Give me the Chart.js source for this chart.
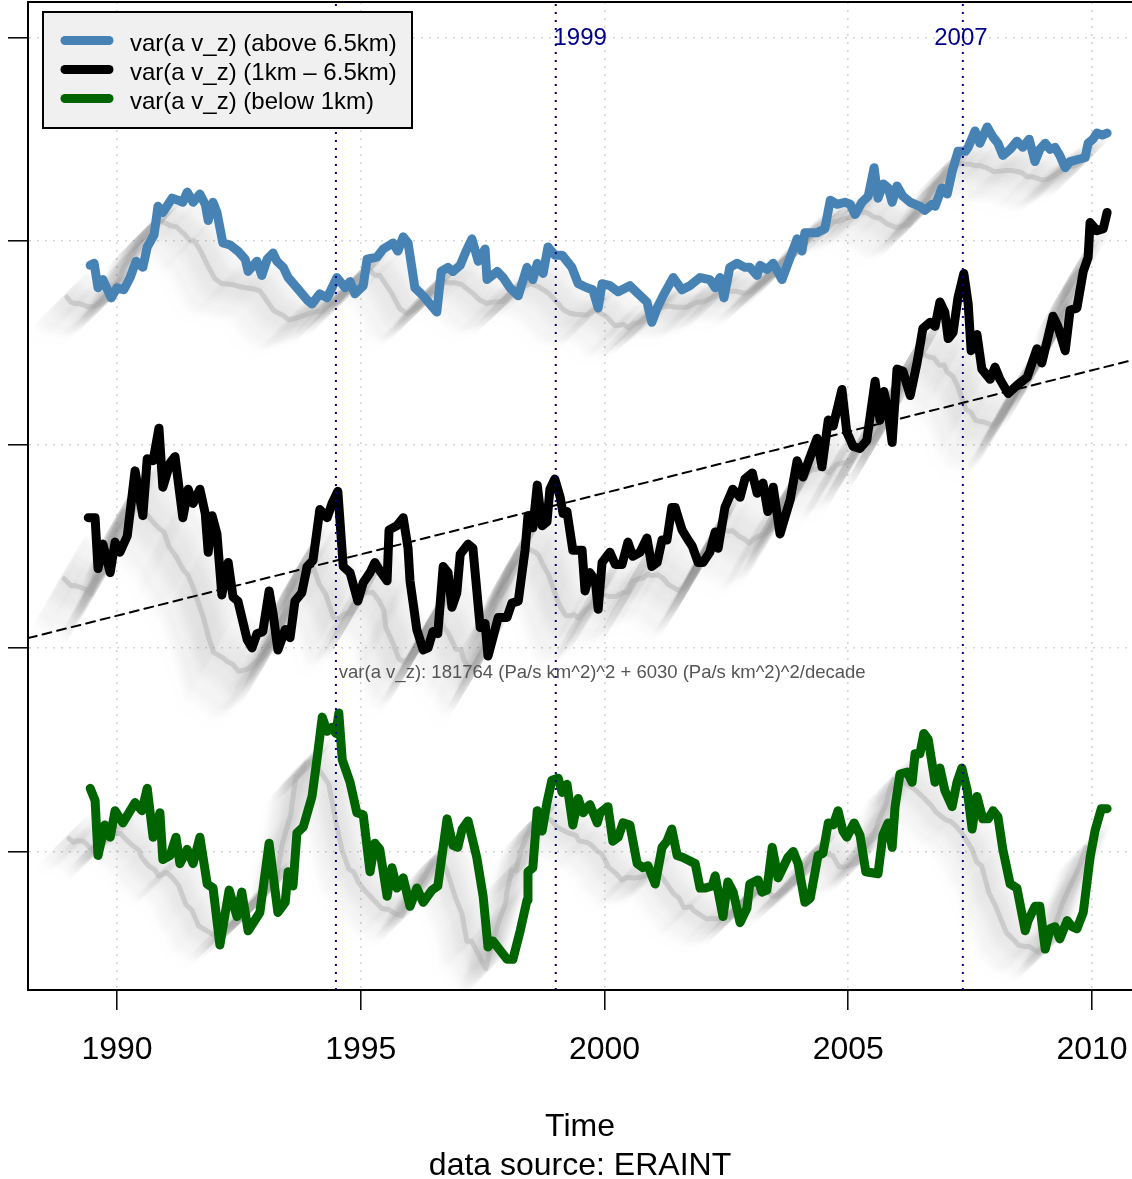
<!DOCTYPE html>
<html>
<head>
<meta charset="utf-8">
<script src="https://cdn.jsdelivr.net/npm/chart.js@4.4.1/dist/chart.umd.min.js"></script>
<style>
  html, body { margin: 0; padding: 0; background: #ffffff; }
  canvas { display: block; }
</style>
</head>
<body>
<canvas id="chart" width="1132" height="1179"></canvas>
<script>
// Variance of a*v_z by height band, in 1000 (Pa/s km^2)^2, against decimal year.
const yearsAbove = [
  1989.45,1989.53,1989.61,1989.71,1989.88,1990.00,1990.14,1990.27,1990.39,1990.53,
  1990.62,1990.76,1990.84,1990.94,1991.13,1991.25,1991.35,1991.44,1991.56,1991.70,
  1991.81,1991.87,1991.97,1992.05,1992.17,1992.32,1992.48,1992.63,1992.69,1992.87,
  1992.97,1993.08,1993.20,1993.28,1993.41,1993.51,1993.69,1993.90,1994.00,1994.16,
  1994.31,1994.51,1994.68,1994.78,1994.88,1995.05,1995.13,1995.33,1995.46,1995.66,
  1995.76,1995.87,1995.97,1996.11,1996.28,1996.42,1996.56,1996.65,1996.79,1996.89,
  1997.04,1997.16,1997.28,1997.41,1997.55,1997.59,1997.80,1997.92,1998.06,1998.23,
  1998.41,1998.53,1998.62,1998.74,1998.84,1998.98,1999.13,1999.33,1999.46,1999.64,
  1999.76,1999.87,1999.95,2000.11,2000.28,2000.52,2000.69,2000.87,2000.97,2001.08,
  2001.20,2001.41,2001.59,2001.75,2001.96,2002.16,2002.27,2002.37,2002.45,2002.57,
  2002.72,2002.88,2002.98,2003.13,2003.19,2003.33,2003.46,2003.64,2003.81,2003.95,
  2004.05,2004.11,2004.36,2004.52,2004.63,2004.77,2004.93,2005.04,2005.14,2005.28,
  2005.41,2005.53,2005.61,2005.72,2005.82,2005.90,2006.00,2006.12,2006.27,2006.47,
  2006.57,2006.72,2006.78,2006.92,2007.03,2007.13,2007.25,2007.40,2007.46,2007.60,
  2007.70,2007.85,2007.97,2008.07,2008.17,2008.32,2008.46,2008.58,2008.71,2008.83,
  2008.93,2009.04,2009.14,2009.24,2009.34,2009.45,2009.55,2009.71,2009.86,2009.92,
  2010.02,2010.10,2010.21,2010.31
];
const varAbove = [
  198.8,198.9,197.7,198.1,197.2,197.7,197.6,198.2,199.0,198.7,
  199.7,200.3,201.7,201.4,202.1,202.0,201.9,202.4,201.9,202.3,
  201.8,201.0,201.9,201.4,199.9,199.8,199.5,199.1,198.5,199.0,
  198.3,199.1,199.4,199.0,198.7,198.2,197.7,197.1,196.9,197.4,
  197.2,198.2,197.7,198.0,197.4,197.8,199.1,199.2,199.6,199.9,
  199.5,200.2,199.9,197.7,197.3,196.9,196.5,198.5,198.7,198.5,
  198.8,199.5,200.1,199.0,199.6,198.1,198.5,198.2,197.7,197.3,
  198.7,198.1,198.9,198.4,199.7,199.3,199.3,198.7,197.9,197.7,
  197.6,196.7,197.9,197.8,197.5,197.8,197.4,197.0,196.0,196.7,
  197.3,198.2,197.6,197.8,198.2,198.1,197.7,198.2,197.2,198.7,
  198.9,198.7,198.7,198.3,198.8,198.6,198.9,198.1,199.2,200.1,
  199.5,200.4,200.4,200.6,202.0,201.8,201.9,201.8,201.3,201.9,
  202.2,203.6,202.1,202.8,202.6,201.9,202.7,202.2,201.9,201.7,
  201.5,201.8,201.7,202.6,202.3,203.4,204.4,204.4,204.6,205.4,
  204.8,205.6,205.1,204.8,204.2,204.5,204.9,204.6,205.0,203.9,
  204.5,204.8,204.5,204.6,204.2,203.6,203.9,204.0,204.1,204.8,
  205.0,205.3,205.2,205.3
];

const yearsMid = [
  1989.41,1989.55,1989.61,1989.71,1989.86,1989.96,1990.06,1990.21,1990.37,1990.53,
  1990.62,1990.74,1990.86,1990.94,1991.09,1991.19,1991.35,1991.46,1991.56,1991.70,
  1991.81,1991.87,1991.95,1992.05,1992.15,1992.28,1992.38,1992.48,1992.67,1992.77,
  1992.87,1992.99,1993.12,1993.20,1993.30,1993.45,1993.55,1993.65,1993.79,1993.90,
  1994.02,1994.16,1994.31,1994.41,1994.53,1994.64,1994.78,1994.94,1995.05,1995.19,
  1995.29,1995.39,1995.54,1995.58,1995.74,1995.87,1995.97,1996.01,1996.15,1996.28,
  1996.38,1996.48,1996.58,1996.69,1996.79,1996.87,1996.97,1997.04,1997.20,1997.30,
  1997.45,1997.55,1997.61,1997.71,1997.82,1998.00,1998.10,1998.23,1998.37,1998.43,
  1998.53,1998.62,1998.72,1998.82,1998.88,1998.98,1999.09,1999.15,1999.23,1999.35,
  1999.54,1999.60,1999.70,1999.81,1999.87,1999.95,2000.11,2000.22,2000.36,2000.48,
  2000.58,2000.73,2000.87,2000.97,2001.08,2001.18,2001.28,2001.38,2001.45,2001.59,
  2001.69,2001.80,2001.92,2002.02,2002.16,2002.27,2002.33,2002.47,2002.63,2002.78,
  2002.88,2003.03,2003.13,2003.25,2003.35,2003.46,2003.60,2003.81,2003.95,2004.07,
  2004.22,2004.36,2004.46,2004.59,2004.69,2004.87,2004.97,2005.10,2005.24,2005.38,
  2005.55,2005.65,2005.73,2005.82,2005.90,2006.00,2006.12,2006.27,2006.41,2006.53,
  2006.68,2006.78,2006.88,2006.98,2007.05,2007.15,2007.25,2007.37,2007.46,2007.52,
  2007.64,2007.74,2007.91,2008.01,2008.11,2008.28,2008.46,2008.67,2008.87,2008.97,
  2009.20,2009.30,2009.45,2009.55,2009.69,2009.82,2009.92,2009.96,2010.10,2010.23,
  2010.31
];
const varMid = [
  186.4,186.4,183.9,185.1,183.7,185.2,184.7,185.5,188.7,186.5,
  189.3,189.2,190.8,187.9,189.1,189.4,186.4,187.8,187.1,187.8,
  186.6,184.7,186.5,185.6,182.6,184.2,182.5,182.3,180.4,180.0,
  180.7,180.8,182.8,181.7,179.9,180.9,180.5,182.3,182.7,184.0,
  184.3,186.8,186.4,187.1,187.7,184.0,183.7,182.3,183.2,183.7,
  184.2,183.8,183.3,185.8,186.0,186.4,184.9,183.3,180.9,179.9,
  180.0,180.8,180.7,184.0,183.7,182.0,182.7,184.6,185.1,184.9,
  181.0,181.2,179.6,180.5,181.5,181.5,182.2,182.3,184.8,186.5,
  185.9,188.0,186.0,186.2,187.8,188.3,187.4,186.6,186.7,184.8,
  184.8,182.8,183.7,183.3,181.9,184.2,184.7,184.1,184.1,185.2,
  184.5,184.7,185.4,184.0,184.2,185.3,185.3,186.9,186.9,185.8,
  185.4,185.0,184.2,184.2,184.7,185.7,184.9,186.9,187.8,187.4,
  188.3,188.6,187.6,188.1,186.7,187.9,185.6,187.3,189.2,188.4,
  189.4,190.3,188.9,191.2,190.9,192.7,190.6,189.9,189.8,190.2,
  193.1,191.2,192.6,191.6,190.1,193.7,193.6,192.4,194.0,195.7,
  196.0,195.8,197.0,196.5,195.2,195.5,197.2,198.4,196.9,194.6,
  195.4,193.7,193.2,193.8,193.2,192.5,192.9,193.3,194.7,194.0,
  196.3,195.8,194.6,196.6,196.7,198.5,199.2,200.9,200.5,200.6,
  201.4
];

const yearsBelow = [
  1989.45,1989.55,1989.61,1989.75,1989.86,1989.96,1990.12,1990.37,1990.51,1990.62,
  1990.74,1990.88,1990.94,1991.09,1991.21,1991.29,1991.44,1991.56,1991.70,1991.85,
  1991.97,1992.11,1992.30,1992.46,1992.56,1992.69,1992.93,1993.12,1993.30,1993.45,
  1993.51,1993.61,1993.69,1993.82,1994.00,1994.10,1994.21,1994.31,1994.41,1994.49,
  1994.55,1994.62,1994.78,1994.92,1995.05,1995.19,1995.29,1995.39,1995.54,1995.64,
  1995.74,1995.87,1996.01,1996.15,1996.28,1996.46,1996.58,1996.77,1996.89,1996.99,
  1997.08,1997.20,1997.38,1997.51,1997.61,1997.71,1998.00,1998.12,1998.27,1998.41,
  1998.43,1998.53,1998.62,1998.72,1998.82,1998.92,1999.05,1999.13,1999.23,1999.35,
  1999.46,1999.56,1999.70,1999.85,1999.91,2000.07,2000.17,2000.28,2000.38,2000.52,
  2000.67,2000.79,2000.89,2001.04,2001.18,2001.28,2001.38,2001.49,2001.61,2001.86,
  2001.96,2002.06,2002.21,2002.27,2002.43,2002.53,2002.64,2002.78,2002.92,2002.98,
  2003.15,2003.23,2003.33,2003.44,2003.56,2003.76,2003.87,2003.97,2004.11,2004.22,
  2004.38,2004.48,2004.59,2004.69,2004.79,2004.89,2004.97,2005.12,2005.24,2005.36,
  2005.61,2005.71,2005.82,2005.90,2005.96,2006.06,2006.21,2006.31,2006.37,2006.47,
  2006.55,2006.64,2006.78,2006.88,2006.98,2007.13,2007.23,2007.33,2007.44,2007.54,
  2007.64,2007.76,2007.87,2007.97,2008.07,2008.17,2008.32,2008.46,2008.63,2008.69,
  2008.83,2008.93,2009.04,2009.14,2009.24,2009.34,2009.49,2009.59,2009.69,2009.82,
  2009.96,2010.06,2010.19,2010.31
];
const varBelow = [
  173.1,172.5,169.8,171.3,170.7,172.0,171.4,172.4,172.0,173.1,
  170.7,171.9,169.6,169.8,170.7,169.4,170.1,169.4,170.7,168.4,
  168.2,165.4,168.1,166.8,168.0,166.1,167.0,170.4,167.0,167.5,
  169.0,168.3,170.9,171.2,172.7,174.5,176.6,175.9,176.1,175.8,
  176.8,174.5,173.4,171.9,171.8,169.0,170.4,170.1,167.8,169.2,
  168.2,168.7,167.3,168.2,167.5,168.1,168.3,171.6,170.3,170.2,
  171.1,171.5,169.7,167.8,165.3,165.6,164.7,164.7,166.1,167.6,
  169.0,169.2,172.0,171.0,172.4,173.5,173.6,172.9,173.3,171.3,
  172.6,171.9,172.3,171.4,171.9,172.2,170.5,170.7,171.4,171.3,
  169.4,169.2,169.3,168.4,170.2,170.5,171.1,169.8,169.7,169.4,
  168.2,168.2,168.3,168.8,166.8,168.5,168.0,166.5,167.2,168.4,
  168.6,168.0,168.1,170.2,168.7,169.7,170.0,169.4,167.5,167.7,
  169.8,169.9,171.4,171.3,172.0,171.0,170.7,171.4,170.8,169.0,
  168.9,170.8,171.4,170.2,172.2,173.8,173.9,173.4,174.8,174.8,
  175.8,175.5,173.4,174.1,173.0,172.2,173.4,174.1,173.0,171.1,
  172.7,171.6,171.6,172.0,171.7,170.1,168.4,168.2,166.1,166.6,
  167.3,167.3,165.2,166.2,166.3,165.7,166.6,166.3,166.2,167.0,
  169.7,171.0,172.1,172.1
];

const seriesLabels = ['var(a v_z) (above 6.5km)', 'var(a v_z) (1km \u2013 6.5km)', 'var(a v_z) (below 1km)'];
const seriesColors = ['#4682B4', '#000000', '#006400'];

const xTickYears = [1990, 1995, 2000, 2005, 2010];
const yTickValues = [170, 180, 190, 200, 210];

// Marked dates and their captions
const eventYears = [1994.49, 1999.0, 2007.35];
const eventCaptions = ['', '1999', '2007'];
const eventCaptionYears = [1994.49, 1999.5, 2007.31];

// Linear trend of the 1km - 6.5km band
const trendIntercept = 181764;   // (Pa/s km^2)^2
const trendPerDecade = 6030;     // (Pa/s km^2)^2 per decade
const trendBaseYear = 1990.3;
const trendNote = 'var(a v_z): ' + trendIntercept + ' (Pa/s km^2)^2 + ' + trendPerDecade + ' (Pa/s km^2)^2/decade';
const trendNoteAt = [1994.55, 178.76];

const X_MIN = 1988.174, X_MAX = 2010.82;
const Y_MIN = 163.19, Y_MAX = 211.74;

const FONT = '"Liberation Sans", Arial, Helvetica, sans-serif';

const toPoints = (ts, vs) => ts.map((t, i) => ({ x: t, y: vs[i] }));
const trendAt = t => (trendIntercept + trendPerDecade * (t - trendBaseYear) / 10) / 1000;

function runningMean(ts, vs, half) {
  return ts.map(t => {
    let s = 0, n = 0;
    for (let j = 0; j < ts.length; j++) {
      if (Math.abs(ts[j] - t) <= half) { s += vs[j]; n++; }
    }
    return s / n;
  });
}

// Soft grey trail behind each curve: its running mean pushed down-left in small steps.
function trailDatasets(ts, vs, p) {
  const m = runningMean(ts, vs, p.window);
  const sets = [];
  const n = p.steps * 2;
  for (let k = 0; k <= n; k++) {
    const f = k / n;
    const a = f <= p.ridge
      ? 0.008 + 0.024 * f / p.ridge
      : 0.032 * Math.pow(1 - (f - p.ridge) / (1 - p.ridge), 1.2);
    sets.push({
      data: ts.map((t, i) => ({ x: t + k * p.dt / 2, y: m[i] + k * p.dv / 2 })),
      borderColor: 'rgba(100,100,100,' + a.toFixed(4) + ')',
      borderWidth: 8,
      order: 30
    });
  }
  const kr = Math.round(p.ridge * p.steps);
  sets.push({
    data: ts.map((t, i) => ({ x: t + kr * p.dt, y: m[i] + kr * p.dv })),
    borderColor: 'rgba(165,165,165,0.4)',
    borderWidth: 5,
    order: 29
  });
  return sets;
}

const datasets = [
  ...trailDatasets(yearsAbove, varAbove, { window: 0.4, dt: -0.0435, dv: -0.104, steps: 30, ridge: 0.35 }),
  ...trailDatasets(yearsMid, varMid, { window: 0.4, dt: -0.031, dv: -0.128, steps: 40, ridge: 0.4 }),
  ...trailDatasets(yearsBelow, varBelow, { window: 0.4, dt: -0.0435, dv: -0.104, steps: 26, ridge: 0.38 }),
  {
    label: 'trend',
    data: [{ x: X_MIN, y: trendAt(X_MIN) }, { x: X_MAX, y: trendAt(X_MAX) }],
    borderColor: '#000', borderWidth: 2, borderDash: [9, 6], order: 5
  },
  { label: seriesLabels[0], data: toPoints(yearsAbove, varAbove), borderColor: seriesColors[0], borderWidth: 9, order: 2 },
  { label: seriesLabels[1], data: toPoints(yearsMid, varMid), borderColor: seriesColors[1], borderWidth: 9, order: 1 },
  { label: seriesLabels[2], data: toPoints(yearsBelow, varBelow), borderColor: seriesColors[2], borderWidth: 9, order: 0 },
  ...eventYears.map(t => ({
    data: [{ x: t, y: Y_MIN }, { x: t, y: Y_MAX }],
    borderColor: '#00008B', borderWidth: 2, borderDash: [2, 6], borderCapStyle: 'butt', order: -1
  }))
];

const decorations = {
  id: 'decorations',
  afterDatasetsDraw(chart) {
    const { ctx, chartArea: a, scales: { x, y } } = chart;
    ctx.save();

    // top edge of the plot frame
    ctx.strokeStyle = '#000';
    ctx.lineWidth = 2;
    ctx.beginPath();
    ctx.moveTo(a.left, a.top);
    ctx.lineTo(a.right, a.top);
    ctx.stroke();

    // captions of the marked dates
    ctx.fillStyle = '#00008B';
    ctx.font = '24px ' + FONT;
    ctx.textAlign = 'center';
    ctx.textBaseline = 'middle';
    eventCaptions.forEach((c, i) => {
      if (c) ctx.fillText(c, x.getPixelForValue(eventCaptionYears[i]), a.top + 36);
    });

    // trend note
    ctx.fillStyle = '#555555';
    ctx.font = '18.5px ' + FONT;
    ctx.textAlign = 'left';
    ctx.fillText(trendNote, x.getPixelForValue(trendNoteAt[0]), y.getPixelForValue(trendNoteAt[1]));

    // legend
    const lx = a.left + 15, ly = a.top + 10, lw = 369, lh = 116;
    ctx.fillStyle = '#f0f0f0';
    ctx.fillRect(lx, ly, lw, lh);
    ctx.strokeStyle = '#000';
    ctx.lineWidth = 2;
    ctx.strokeRect(lx, ly, lw, lh);
    ctx.font = '24px ' + FONT;
    ctx.textBaseline = 'alphabetic';
    ctx.lineCap = 'round';
    seriesLabels.forEach((lab, i) => {
      const cy = ly + 28.5 + i * 29;
      ctx.strokeStyle = seriesColors[i];
      ctx.lineWidth = 9;
      ctx.beginPath();
      ctx.moveTo(lx + 22, cy);
      ctx.lineTo(lx + 66, cy);
      ctx.stroke();
      ctx.fillStyle = '#000';
      ctx.fillText(lab, lx + 87, cy + 10.5);
    });
    ctx.restore();
  }
};

new Chart(document.getElementById('chart'), {
  type: 'line',
  data: { datasets },
  plugins: [decorations],
  options: {
    responsive: false,
    animation: false,
    events: [],
    devicePixelRatio: 1,
    layout: { padding: { top: 2, right: 0, bottom: 0, left: 0 } },
    plugins: { legend: { display: false }, tooltip: { enabled: false } },
    elements: {
      point: { radius: 0 },
      line: { tension: 0, borderJoinStyle: 'round', borderCapStyle: 'round', fill: false }
    },
    scales: {
      x: {
        type: 'linear', position: 'bottom', min: X_MIN, max: X_MAX,
        afterBuildTicks: s => { s.ticks = xTickYears.map(v => ({ value: v })); },
        afterFit: s => { s.height = 189; s.paddingLeft = 0; s.paddingRight = 0; },
        grid: { color: '#d6d6d6', lineWidth: 1.6, tickLength: 20, tickColor: '#000', tickWidth: 1.5, tickBorderDash: [] },
        border: { display: true, color: '#000', width: 2, dash: [2, 6] },
        ticks: {
          color: '#000', padding: 21, maxRotation: 0, autoSkip: false,
          font: { family: FONT, size: 32 },
          callback: v => String(v)
        },
        title: {
          display: true, text: ['Time', 'data source: ERAINT'], color: '#000',
          font: { family: FONT, size: 32, lineHeight: 1.2 },
          padding: { top: 0, bottom: -6 }
        }
      },
      y: {
        type: 'linear', position: 'left', min: Y_MIN, max: Y_MAX,
        afterBuildTicks: s => { s.ticks = yTickValues.map(v => ({ value: v })); },
        afterFit: s => { s.width = 28; s.paddingTop = 0; s.paddingBottom = 0; },
        grid: { color: '#d6d6d6', lineWidth: 1.6, tickLength: 20, tickColor: '#000', tickWidth: 1.5, tickBorderDash: [] },
        border: { display: true, color: '#000', width: 2, dash: [2, 6] },
        ticks: { display: false }
      }
    }
  }
});
</script>
</body>
</html>
